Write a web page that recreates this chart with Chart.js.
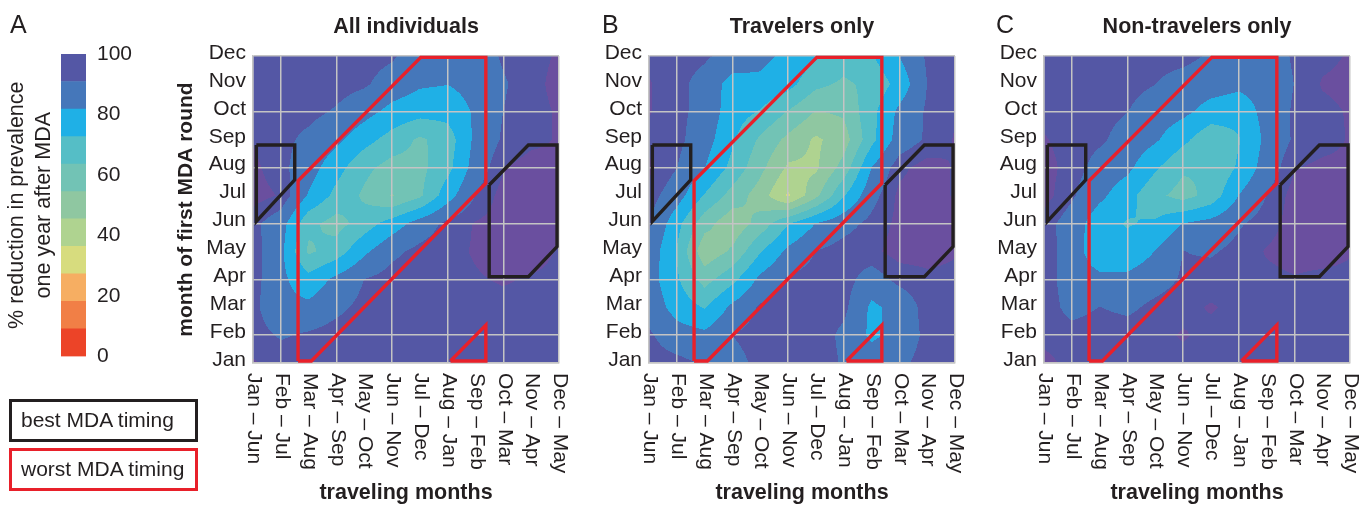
<!DOCTYPE html>
<html>
<head>
<meta charset="utf-8">
<script src="https://cdn.jsdelivr.net/npm/chart.js@4.4.1/dist/chart.umd.min.js"></script>
<style>
  body { margin: 0; background: #fff; width: 1372px; height: 507px; overflow: hidden; position: relative;
         font-family: "Liberation Sans", Arial, Helvetica, sans-serif; color: #231f20; }
  canvas { position: absolute; top: 0; }
  .letter { position: absolute; top: 12px; font-size: 25px; line-height: 1; }
  .key { position: absolute; left: 9px; width: 189px; height: 43px; box-sizing: border-box;
         border: 3.5px solid; font-size: 21px; padding-left: 9px; line-height: 36px; white-space: nowrap; }
</style>
</head>
<body>
<canvas id="cbar" width="150" height="380" style="left:0"></canvas>
<canvas id="pA" width="420" height="507" style="left:160px"></canvas>
<canvas id="pB" width="420" height="507" style="left:556px"></canvas>
<canvas id="pC" width="420" height="507" style="left:951px"></canvas>

<div class="letter" style="left:10px">A</div>
<div class="letter" style="left:602px">B</div>
<div class="letter" style="left:996px">C</div>
<div class="key" style="top:399px;border-color:#231f20">best MDA timing</div>
<div class="key" style="top:448px;border-color:#e8202a">worst MDA timing</div>

<script>
var ink = "#231f20";
var family = '"Liberation Sans", Arial, Helvetica, sans-serif';
Chart.defaults.font.family = family;
Chart.defaults.color = ink;

// axis categories
var travelMonths = ["Jan – Jun", "Feb – Jul", "Mar – Aug", "Apr – Sep", "May – Oct", "Jun – Nov",
                    "Jul – Dec", "Aug – Jan", "Sep – Feb", "Oct – Mar", "Nov – Apr", "Dec – May"];
var mdaMonths = ["Jan", "Feb", "Mar", "Apr", "May", "Jun", "Jul", "Aug", "Sep", "Oct", "Nov", "Dec"];

// colour scale: 11 bands from 0 to 100, plus purple for the very top
var bandEdges = [0, 9.1, 18.2, 27.3, 36.4, 45.5, 54.5, 63.6, 72.7, 81.8, 90.9, 100];
var bandColors = ["#ec4428", "#f17f46", "#f6ae62", "#d7dc7e", "#afd390", "#8fc7a1",
                  "#72c3b5", "#55bec6", "#1fb0e6", "#4577ba", "#5457a5"];
var purpleFrom = 96.5;
var purple = "#6a4f9f";

// % reduction, rows Dec (top) -> Jan (bottom), columns Jan–Jun -> Dec–May
var allIndividuals = [
  [96, 95, 95, 95, 94, 92, 86, 85, 86, 92, 95, 97],
  [96, 95, 95, 94, 92, 87, 83, 82, 85, 90, 95, 98],
  [95, 94, 93, 90, 85, 79, 76, 76, 83, 91, 95, 97],
  [96, 93, 89, 84, 76, 69, 62, 68, 84, 92, 95, 97],
  [98, 93, 86, 76, 66, 60, 61, 70, 86, 96, 99, 98],
  [99, 96, 81, 70, 62, 54, 62, 78, 91, 99, 99, 98],
  [93, 86, 66, 60, 68, 77, 86, 93, 97, 99, 99, 98],
  [94, 84, 62, 68, 80, 89, 93, 95, 97, 99, 99, 96],
  [94, 84, 76, 84, 91, 94, 95, 95, 96, 97, 96, 95],
  [93, 84, 84, 89, 93, 95, 95, 95, 95, 95, 95, 95],
  [94, 90, 92, 94, 95, 95, 95, 95, 95, 95, 95, 95],
  [97, 95, 95, 95, 95, 95, 95, 95, 95, 95, 95, 95]
];
var travelersOnly = [
  [95, 94, 92, 88, 84, 80, 74, 68, 72, 82, 92, 95],
  [97, 93, 88, 78, 80, 76, 66, 62, 66, 76, 91, 95],
  [97, 93, 88, 77, 72, 63, 54, 56, 70, 84, 92, 96],
  [94, 93, 86, 74, 62, 52, 44, 50, 70, 86, 92, 97],
  [98, 91, 82, 70, 57, 44, 44, 58, 82, 95, 99, 96],
  [94, 86, 72, 60, 50, 35, 52, 72, 88, 98, 99, 96],
  [92, 76, 58, 48, 58, 72, 82, 88, 93, 98, 99, 97],
  [88, 72, 48, 56, 72, 84, 91, 94, 95, 99, 99, 97],
  [86, 74, 60, 70, 84, 92, 94, 94, 87, 93, 95, 95],
  [88, 78, 72, 84, 92, 94, 95, 93, 80, 85, 94, 95],
  [92, 86, 84, 91, 94, 95, 95, 89, 80, 85, 93, 95],
  [94, 93, 90, 88, 93, 95, 95, 90, 87, 89, 94, 95]
];
var nonTravelersOnly = [
  [95, 95, 95, 94, 93, 93, 90, 86, 86, 92, 95, 97],
  [95, 95, 94, 93, 91, 88, 86, 84, 85, 91, 97, 98],
  [95, 94, 93, 91, 87, 84, 78, 76, 85, 92, 95, 97],
  [97, 94, 92, 88, 83, 75, 66, 72, 84, 92, 94, 97],
  [99, 94, 88, 84, 74, 65, 64, 74, 86, 96, 98, 98],
  [99, 92, 84, 76, 66, 60, 67, 82, 91, 99, 99, 98],
  [94, 87, 76, 72, 74, 82, 85, 90, 94, 99, 99, 98],
  [95, 86, 76, 76, 82, 91, 90, 93, 97, 99, 99, 97],
  [95, 86, 84, 84, 87, 92, 94, 95, 95, 96, 95, 95],
  [95, 88, 91, 89, 93, 95, 97, 95, 95, 95, 95, 95],
  [95, 94, 95, 95, 95, 97, 95, 95, 95, 95, 95, 95],
  [98, 95, 95, 95, 95, 95, 95, 95, 95, 95, 95, 95]
];

// outlined regions, in axis units (x: traveling months index, y: MDA month index)
var bestLeft = [{x: 0.12, y: 7.81}, {x: 1.5, y: 7.81}, {x: 1.5, y: 6.56}, {x: 0.12, y: 5.07}, {x: 0.12, y: 7.81}];
var bestRight = [{x: 8.49, y: 6.38}, {x: 9.9, y: 7.81}, {x: 10.93, y: 7.81}, {x: 10.93, y: 4.17},
                 {x: 9.9, y: 3.09}, {x: 8.49, y: 3.09}, {x: 8.49, y: 6.38}];
var worstBand = [{x: 1.62, y: 0.07}, {x: 2.1, y: 0.07}, {x: 8.37, y: 6.44}, {x: 8.37, y: 10.95},
                 {x: 6.03, y: 10.95}, {x: 1.62, y: 6.53}, {x: 1.62, y: 0.07}];
var worstCorner = [{x: 7.1, y: 0.07}, {x: 8.37, y: 0.07}, {x: 8.37, y: 1.36}, {x: 7.1, y: 0.07}];

function hexRgb(h) {
  return [parseInt(h.substr(1, 2), 16), parseInt(h.substr(3, 2), 16), parseInt(h.substr(5, 2), 16)];
}
var bandRgb = bandColors.map(hexRgb);
var purpleRgb = hexRgb(purple);

function colorOf(v) {
  if (v >= purpleFrom) return purpleRgb;
  for (var k = bandRgb.length - 1; k >= 0; k--) {
    if (v >= bandEdges[k]) return bandRgb[k];
  }
  return bandRgb[0];
}

// contour-style fill of the value grid, drawn under the grid lines
function heatLayer(rows) {
  var g = rows.slice().reverse(); // g[0] = Jan
  return {
    id: "heat",
    beforeDraw: function (chart) {
      var ctx = chart.ctx, a = chart.chartArea, sx = chart.scales.x, sy = chart.scales.y;
      var w = Math.round(a.right - a.left), h = Math.round(a.bottom - a.top);
      var off = document.createElement("canvas");
      off.width = w; off.height = h;
      var oc = off.getContext("2d");
      var img = oc.createImageData(w, h);
      var n = g[0].length - 1, m = g.length - 1;
      for (var py = 0; py < h; py++) {
        var vy = Math.min(Math.max(sy.getValueForPixel(a.top + py + 0.5), 0), m);
        var j = Math.min(Math.floor(vy), m - 1), fy = vy - j;
        for (var px = 0; px < w; px++) {
          var vx = Math.min(Math.max(sx.getValueForPixel(a.left + px + 0.5), 0), n);
          var i = Math.min(Math.floor(vx), n - 1), fx = vx - i;
          var v = (g[j][i] * (1 - fx) + g[j][i + 1] * fx) * (1 - fy) +
                  (g[j + 1][i] * (1 - fx) + g[j + 1][i + 1] * fx) * fy;
          var c = colorOf(v), o = (py * w + px) * 4;
          img.data[o] = c[0]; img.data[o + 1] = c[1]; img.data[o + 2] = c[2]; img.data[o + 3] = 255;
        }
      }
      oc.putImageData(img, 0, 0);
      ctx.drawImage(off, a.left, a.top);
    }
  };
}

// panel title and the x labels (they read top to bottom)
function panelText(title) {
  return {
    id: "panelText",
    afterDraw: function (chart) {
      var ctx = chart.ctx, a = chart.chartArea, sx = chart.scales.x;
      ctx.save();
      ctx.fillStyle = ink;
      ctx.font = "bold 21.5px " + family;
      ctx.textAlign = "center";
      ctx.textBaseline = "alphabetic";
      ctx.fillText(title, (a.left + a.right) / 2, 33);
      ctx.font = "21px " + family;
      ctx.textAlign = "left";
      ctx.textBaseline = "middle";
      travelMonths.forEach(function (t, i) {
        ctx.save();
        ctx.translate(sx.getPixelForValue(i) + 1, a.bottom + 10);
        ctx.rotate(Math.PI / 2);
        ctx.fillText(t, 0, 0);
        ctx.restore();
      });
      ctx.restore();
    }
  };
}

function gridColor(c) {
  var v = c.tick ? c.tick.value : -1;
  return (v % 2 === 1 || v === 0 || v === 11) ? "#c4c4c4" : "rgba(0,0,0,0)";
}

function region(pts, color) {
  return {
    data: pts, showLine: true, borderColor: color, borderWidth: 3.4, pointRadius: 0,
    fill: false, tension: 0, borderJoinStyle: "miter", clip: false
  };
}

function makePanel(id, rows, title, yTitle) {
  return new Chart(document.getElementById(id), {
    type: "scatter",
    data: {
      datasets: [
        region(bestLeft, ink),
        region(bestRight, ink),
        region(worstBand, "#e8202a"),
        region(worstCorner, "#e8202a")
      ]
    },
    options: {
      responsive: false,
      animation: false,
      devicePixelRatio: 1,
      layout: { padding: { top: 56, right: 21, bottom: 0, left: 0 } },
      plugins: { legend: { display: false }, tooltip: { enabled: false } },
      scales: {
        x: {
          type: "linear", min: 0, max: 11,
          afterFit: function (s) { s.height = 144; },
          ticks: { stepSize: 1, display: false },
          grid: { color: gridColor, lineWidth: 1.5, drawTicks: false },
          border: { color: "#c4c4c4", width: 1.5 },
          title: { display: true, text: "traveling months", color: ink,
                   font: { size: 21.5, weight: "bold" }, padding: { top: 0, bottom: 1 } }
        },
        y: {
          type: "linear", min: 0, max: 11,
          afterFit: function (s) { s.width = 93; },
          ticks: { stepSize: 1, autoSkip: false, padding: 7, labelOffset: -3, color: ink,
                   font: { size: 21 }, callback: function (v) { return mdaMonths[v]; } },
          grid: { color: gridColor, lineWidth: 1.5, drawTicks: false },
          border: { color: "#c4c4c4", width: 1.5 },
          title: { display: yTitle, text: "month of first MDA round", color: ink,
                   font: { size: 21, weight: "bold" }, padding: { top: 13.4, bottom: 0 } }
        }
      }
    },
    plugins: [heatLayer(rows), panelText(title)]
  });
}

makePanel("pA", allIndividuals, "All individuals", true);
makePanel("pB", travelersOnly, "Travelers only", false);
makePanel("pC", nonTravelersOnly, "Non-travelers only", false);

// colour bar
new Chart(document.getElementById("cbar"), {
  type: "bar",
  data: {
    labels: [""],
    datasets: bandColors.map(function (c, k) {
      return { data: [[bandEdges[k], bandEdges[k + 1]]], backgroundColor: c, borderWidth: 0,
               barPercentage: 1, categoryPercentage: 1, grouped: false };
    })
  },
  options: {
    responsive: false,
    animation: false,
    devicePixelRatio: 1,
    layout: { padding: { top: 54, bottom: 20, left: 0, right: 0 } },
    plugins: { legend: { display: false }, tooltip: { enabled: false } },
    scales: {
      x: { display: false },
      y: {
        position: "right", min: 0, max: 100,
        afterFit: function (s) { s.width = 64; },
        ticks: { stepSize: 20, padding: 11, color: ink, font: { size: 21 } },
        grid: { display: false, drawTicks: false },
        border: { display: false }
      },
      cbTitle: {
        axis: "y", position: "left",
        afterFit: function (s) { s.width = 61; },
        ticks: { display: false },
        grid: { display: false, drawTicks: false },
        border: { display: false },
        title: { display: true, text: ["% reduction in prevalence", "one year after MDA"], color: ink,
                 font: { size: 21.5, lineHeight: 1.28 }, padding: { top: 3.25, bottom: 0 } }
      }
    }
  }
});
</script>
</body>
</html>
